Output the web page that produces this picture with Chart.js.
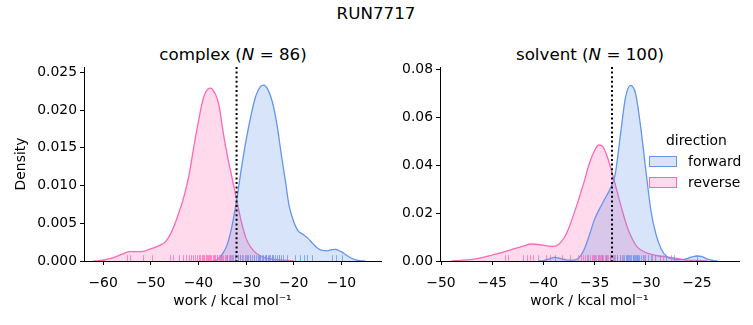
<!DOCTYPE html>
<html>
<head>
<meta charset="utf-8">
<script src="https://cdn.jsdelivr.net/npm/chart.js@4.4.1/dist/chart.umd.min.js"></script>
<style>
  body { margin: 0; width: 753px; height: 325px; position: relative; background: #fff; overflow: hidden;
         font-family: "DejaVu Sans", sans-serif; color: #000; }
  canvas { position: absolute; top: 0; }
  .t { position: absolute; white-space: nowrap; transform: translateX(-50%); line-height: 1; }
  .leg { position: absolute; font-size: 13.9px; line-height: 1; white-space: nowrap; }
  .patch { position: absolute; width: 26px; height: 9px; border: 1px solid; }
</style>
</head>
<body>
<div class="t" style="left:376px;top:5px;font-size:16.7px">RUN7717</div>
<div class="t" style="left:233px;top:46px;font-size:16.7px">complex (<i>N</i> = 86)</div>
<div class="t" style="left:590px;top:46px;font-size:16.7px">solvent (<i>N</i> = 100)</div>

<canvas id="complexChart" width="390" height="325" style="left:0"></canvas>
<canvas id="solventChart" width="363" height="325" style="left:390px"></canvas>

<div class="leg" style="left:666px;top:134px">direction</div>
<div class="patch" style="left:649px;top:156px;border-color:#6495ED;background:rgba(100,149,237,0.25)"></div>
<div class="leg" style="left:688px;top:155px">forward</div>
<div class="patch" style="left:649px;top:177px;border-color:#FF69B4;background:rgba(255,105,180,0.25)"></div>
<div class="leg" style="left:688px;top:176px">reverse</div>

<script>
// complex leg: density curves
let complexRevX = [-62, -60, -58, -56, -54.5, -52, -50, -48, -47, -46, -45, -44, -43, -42, -41, -40, -39, -38, -37.4, -37, -36, -35.5, -35, -34, -33, -32, -31, -30, -29, -28, -27, -26, -24, -22, -20];
let complexRevY = [0, 0.0001, 0.0004, 0.0009, 0.00125, 0.00125, 0.0016, 0.0021, 0.0025, 0.0034, 0.0048, 0.0066, 0.0086, 0.0113, 0.0150, 0.0185, 0.0215, 0.0228, 0.0229, 0.0227, 0.0214, 0.0200, 0.0178, 0.0142, 0.0112, 0.0082, 0.0052, 0.0030, 0.0018, 0.0011, 0.0007, 0.0004, 0.0002, 0.0001, 0];
let complexFwdX = [-37, -36, -35, -34, -33, -32, -31, -30, -29, -28, -27, -26.3, -25.5, -24.5, -23.5, -22.7, -21.8, -21, -20, -19.2, -18, -17, -16, -15, -14, -13, -12, -11.2, -10, -9, -8, -7, -6, -5];
let complexFwdY = [0, 0.0002, 0.0009, 0.0021, 0.0045, 0.0080, 0.0122, 0.0160, 0.0192, 0.0218, 0.0231, 0.0233, 0.0228, 0.0211, 0.0180, 0.0145, 0.0108, 0.0074, 0.0052, 0.0041, 0.0035, 0.0030, 0.0023, 0.0017, 0.0014, 0.00135, 0.0015, 0.00155, 0.0012, 0.0008, 0.0004, 0.00015, 0.00005, 0];
let complexRevRug = [-55.0, -54.4, -51.6, -49.7, -45.9, -45.3, -44.1, -43.2, -42.6, -42.0, -41.6, -41.1, -40.7, -40.3, -39.9, -39.6, -39.3, -39.0, -38.8, -38.5, -38.3, -38.0, -37.8, -37.5, -37.3, -37.0, -36.8, -36.5, -36.2, -36.0, -35.7, -35.4, -35.1, -34.8, -34.5, -34.2, -33.9, -33.5, -33.1, -32.7, -32.3, -31.8, -31.3, -30.7, -30.0, -29.2, -28.3, -27.2, -25.9, -24.5, -23.0];
let complexFwdRug = [-35.2, -34.1, -33.4, -32.9, -32.3, -31.8, -31.2, -30.8, -30.3, -29.9, -29.5, -29.1, -28.7, -28.3, -27.9, -27.6, -27.3, -27.0, -26.7, -26.4, -26.1, -25.8, -25.5, -25.2, -24.9, -24.6, -24.3, -24.0, -23.6, -23.2, -22.7, -22.2, -21.5, -19.8, -18.6, -17.9, -17.2, -16.1, -12.0, -11.1, -9.9];
let complexCut = -32.0;
let complexXTicks = [-60, -50, -40, -30, -20, -10];
let complexYTicks = [0, 0.005, 0.010, 0.015, 0.020, 0.025];

// solvent leg
let solventRevX = [-49, -48, -47, -46, -45, -44, -43, -42, -41.2, -40.5, -40, -39.3, -39, -38.5, -38, -37.5, -37, -36.5, -36, -35.5, -35, -34.6, -34.2, -33.8, -33.3, -32.8, -32.3, -31.8, -31.3, -30.8, -30, -29, -28, -27, -26, -25, -24];
let solventRevY = [0, 0.0003, 0.0007, 0.0014, 0.0025, 0.0036, 0.0050, 0.0062, 0.0071, 0.0069, 0.0066, 0.0061, 0.0061, 0.0070, 0.0095, 0.0140, 0.0200, 0.0265, 0.0335, 0.0410, 0.0462, 0.0485, 0.0478, 0.0440, 0.0370, 0.0290, 0.0210, 0.0140, 0.0090, 0.0057, 0.0035, 0.0023, 0.0017, 0.0011, 0.0004, 0.0002, 0];
let solventFwdX = [-40.5, -40, -39.5, -38.9, -38.3, -37.7, -37, -36.5, -36, -35.5, -35, -34.5, -34, -33.5, -33, -32.5, -32, -31.5, -31, -30.5, -30, -29.5, -29, -28.5, -28, -27.5, -27, -26.5, -26, -25.5, -25, -24.5, -24, -23.5, -23];
let solventFwdY = [0, 0.0002, 0.0008, 0.0015, 0.0010, 0.0004, 0.0004, 0.0015, 0.0050, 0.0110, 0.0175, 0.0220, 0.0260, 0.0300, 0.0360, 0.0520, 0.0680, 0.0734, 0.0700, 0.0560, 0.0380, 0.0210, 0.0110, 0.0050, 0.0020, 0.0010, 0.0006, 0.0006, 0.0010, 0.0017, 0.0021, 0.0018, 0.0008, 0.0003, 0];
let solventRevRug = [-43.8, -43.5, -42.0, -41.6, -41.3, -41.0, -40.5, -39.7, -39.4, -38.2, -37.4, -36.6, -36.3, -36.1, -35.9, -35.7, -35.5, -35.3, -35.2, -35.0, -34.9, -34.7, -34.6, -34.5, -34.4, -34.3, -34.2, -34.0, -33.9, -33.8, -33.7, -33.5, -33.4, -33.2, -33.0, -32.8, -32.5, -32.2, -31.8, -31.3, -30.9, -30.2, -29.4, -28.3, -27.5];
let solventFwdRug = [-38.9, -35.6, -35.1, -34.7, -34.3, -33.9, -33.5, -33.1, -32.8, -32.5, -32.3, -32.1, -31.9, -31.8, -31.7, -31.6, -31.5, -31.4, -31.3, -31.2, -31.1, -31.0, -30.9, -30.8, -30.7, -30.5, -30.3, -30.1, -29.8, -29.5, -29.1, -28.6, -28.0, -27.2, -25.0];
let solventCut = -33.3;
let solventXTicks = [-50, -45, -40, -35, -30, -25];
let solventYTicks = [0, 0.02, 0.04, 0.06, 0.08];

let fwdColor = '#6495ED';
let revColor = '#FF69B4';
let font = { family: 'DejaVu Sans', size: 13.9 };

function points(xs, ys) {
  return xs.map((x, i) => ({ x: x, y: ys[i] }));
}

function kde(label, xs, ys, color, fill) {
  return {
    label: label,
    data: points(xs, ys),
    borderColor: color,
    backgroundColor: fill,
    borderWidth: 1.3,
    fill: 'origin',
    pointRadius: 0,
    showLine: true,
    cubicInterpolationMode: 'monotone'
  };
}

function minus(v) {
  return v < 0 ? '\u2212' + Math.abs(v) : String(v);
}

// rug ticks + dotted vertical line, drawn through the chart's own scales
function overlay(rugs, cut) {
  return {
    id: 'overlay',
    afterDatasetsDraw(chart) {
      let ctx = chart.ctx;
      let area = chart.chartArea;
      let x = chart.scales.x;
      let h = area.height * 0.03;
      ctx.save();
      ctx.lineWidth = 1;
      rugs.forEach(r => {
        ctx.strokeStyle = r.color;
        r.values.forEach(v => {
          let px = Math.round(x.getPixelForValue(v)) + 0.5;
          ctx.beginPath();
          ctx.moveTo(px, area.bottom);
          ctx.lineTo(px, area.bottom - h);
          ctx.stroke();
        });
      });
      let cx = x.getPixelForValue(cut);
      ctx.strokeStyle = '#000';
      ctx.lineWidth = 2;
      ctx.setLineDash([2, 2.6]);
      ctx.beginPath();
      ctx.moveTo(cx, area.top);
      ctx.lineTo(cx, area.bottom);
      ctx.stroke();
      ctx.restore();
    }
  };
}

function makeChart(id, fwdX, fwdY, revX, revY, rugs, cut, xr, xTicks, yMax, yTicks, yDec, yTitle, yWidth, padRight) {
  let ctx = document.getElementById(id).getContext('2d');
  return new Chart(ctx, {
    type: 'scatter',
    data: {
      datasets: [
        kde('forward', fwdX, fwdY, fwdColor, 'rgba(100,149,237,0.25)'),
        kde('reverse', revX, revY, revColor, 'rgba(255,105,180,0.25)')
      ]
    },
    options: {
      responsive: false,
      animation: false,
      layout: { padding: { top: 67, right: padRight, left: 0, bottom: 15 } },
      plugins: { legend: { display: false }, tooltip: { enabled: false } },
      scales: {
        x: {
          type: 'linear',
          min: xr[0],
          max: xr[1],
          afterBuildTicks: s => { s.ticks = xTicks.map(v => ({ value: v })); },
          afterFit: s => { s.height = 49; },
          grid: { drawOnChartArea: false, drawTicks: true, tickLength: 4, color: '#000' },
          border: { display: true, color: '#000', width: 1 },
          ticks: { color: '#000', font: font, padding: 10, maxRotation: 0, callback: v => minus(v) },
          title: { display: true, text: 'work / kcal mol\u207B\u00B9', color: '#000', font: font, padding: { top: 4, bottom: 0 } }
        },
        y: {
          type: 'linear',
          min: 0,
          max: yMax,
          afterBuildTicks: s => { s.ticks = yTicks.map(v => ({ value: v })); },
          afterFit: s => { s.width = yWidth; },
          grid: { drawOnChartArea: false, drawTicks: true, tickLength: 4, color: '#000' },
          border: { display: true, color: '#000', width: 1 },
          ticks: { color: '#000', font: font, padding: 3, callback: v => v.toFixed(yDec) },
          title: { display: !!yTitle, text: yTitle, color: '#000', font: font, padding: { top: 13, bottom: 6 } }
        }
      }
    },
    plugins: [overlay(rugs, cut)]
  });
}

makeChart('complexChart', complexFwdX, complexFwdY, complexRevX, complexRevY,
  [{ color: 'rgba(255,105,180,0.75)', values: complexRevRug }, { color: 'rgba(100,149,237,0.75)', values: complexFwdRug }],
  complexCut, [-64, -1.7], complexXTicks, 0.0257, complexYTicks, 3, 'Density', 84, 9);

makeChart('solventChart', solventFwdX, solventFwdY, solventRevX, solventRevY,
  [{ color: 'rgba(255,105,180,0.75)', values: solventRevRug }, { color: 'rgba(100,149,237,0.75)', values: solventFwdRug }],
  solventCut, [-50.1, -20.9], solventXTicks, 0.0811, solventYTicks, 2, '', 50, 14);
</script>
</body>
</html>
